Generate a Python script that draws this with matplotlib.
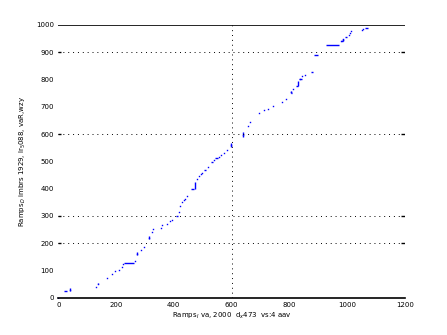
import numpy as np
from matplotlib import pyplot as plt

# single points (rank in list I, rank in list D)
pt_x = [0, 41, 130, 138, 170, 187, 197, 211, 219, 225, 265, 273, 287, 295,
        315, 325, 329, 356, 360, 377, 387, 392, 418, 423, 429, 436, 440, 445,
        481, 488, 493, 499, 517, 538, 556, 563, 572, 584, 598, 640, 657, 663,
        695, 712, 726, 743, 775, 788, 806, 812, 836, 844, 853,
        979, 985, 987, 1005, 1009, 1012, 1051, 1055]
pt_y = [0, 30, 39, 52, 71, 87, 98, 100, 112, 123, 135, 162, 175, 185,
        220, 242, 251, 256, 265, 271, 280, 285, 313, 335, 350, 358, 363, 372,
        434, 446, 454, 458, 478, 504, 517, 523, 530, 540, 560, 598, 631, 645,
        676, 687, 693, 702, 719, 730, 755, 764, 801, 812, 817,
        940, 948, 945, 963, 972, 977, 982, 985]

# tied ranks: horizontal runs (x start, x end, y)
run_x0 = [20, 227, 407, 459, 506, 527, 542, 806, 822, 833, 874, 885, 926, 977, 991, 1061]
run_x1 = [30, 262, 413, 470, 512, 534, 552, 810, 828, 842, 883, 898, 973, 985, 1000, 1073]
run_y = [25, 126, 298, 397, 468, 498, 512, 750, 777, 801, 827, 889, 926, 940, 955, 989]

# vertical runs (x, y start, y end)
vrun_x = [41, 138, 273, 315, 473, 598, 640, 806, 829, 987]
vrun_y0 = [26, 49, 158, 214, 397, 553, 588, 750, 777, 940]
vrun_y1 = [35, 54, 166, 226, 424, 568, 608, 759, 796, 948]

grid_y = [200, 300, 600, 900]
grid_x = [600]

fig = plt.figure(figsize=(4.47, 3.35), dpi=100)
ax = fig.add_axes([0.1304, 0.1113, 0.7756, 0.8141])

ax.plot(pt_x, pt_y, linestyle='none', marker='s', markersize=1.0,
        markeredgewidth=0, color='blue')
ax.hlines(run_y, run_x0, run_x1, colors='blue', linewidth=1.0)
ax.vlines(vrun_x, vrun_y0, vrun_y1, colors='blue', linewidth=1.0)

for gy in grid_y:
    ax.axhline(gy, color='black', linewidth=0.7, linestyle=(0, (1, 4)))
for gx in grid_x:
    ax.axvline(gx, color='black', linewidth=0.7, linestyle=(0, (1, 4)))
ax.axhline(1000, color='black', linewidth=1.2)

# short ticks at the ends of the reference lines
ax.hlines(grid_y, 1185, 1200, colors='black', linewidth=1.0)
ax.hlines(grid_y, 0, 10, colors='black', linewidth=1.0)

ax.set_xlim(0, 1200)
ax.set_ylim(0, 1000)
ax.set_xticks(np.arange(0, 1201, 200))
ax.set_yticks(np.arange(0, 1001, 100))
ax.tick_params(length=0, labelsize=5, pad=3)
for s in ['left', 'right', 'top']:
    ax.spines[s].set_visible(False)
ax.spines['bottom'].set_linewidth(1.2)

ax.set_xlabel("Ramps$_I$ va, 2000  d$_x$473  vs:4 aav", fontsize=5, labelpad=2)
ax.set_ylabel("Ramps$_D$ imbrs 1929, lr$_5$088, vaR,wzy", fontsize=5, labelpad=6)

fig.savefig('out.png', dpi=100)
